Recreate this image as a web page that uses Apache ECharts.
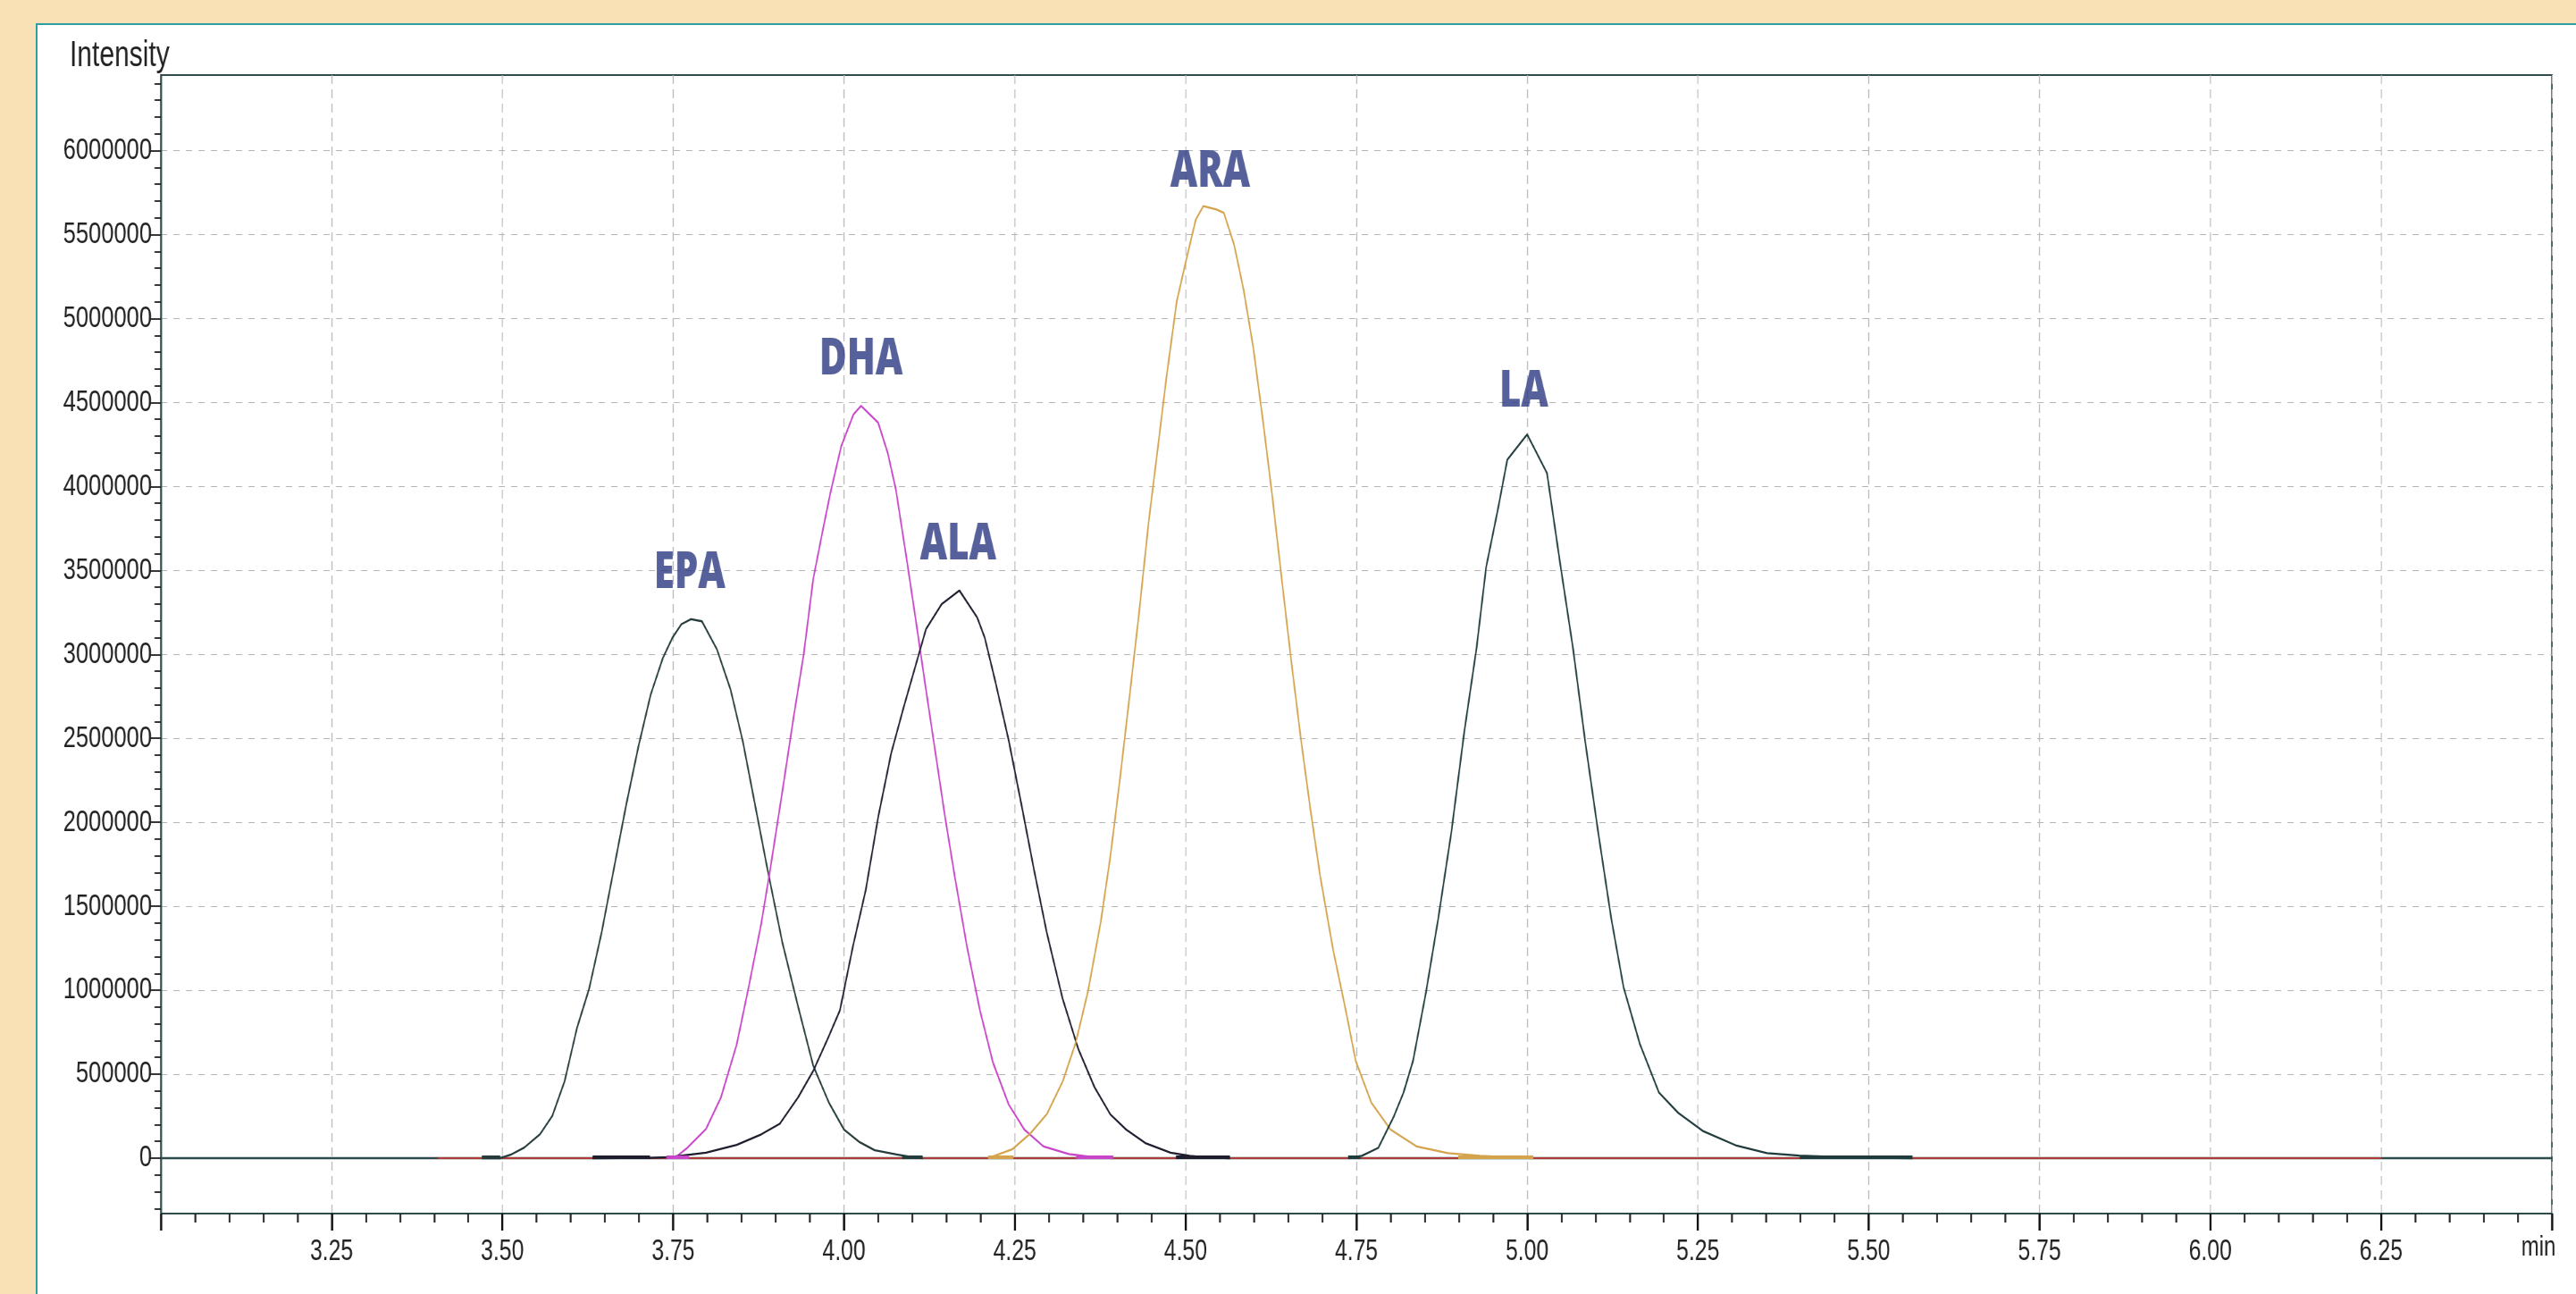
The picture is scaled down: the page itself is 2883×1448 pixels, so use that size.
<!DOCTYPE html>
<html>
<head>
<meta charset="utf-8">
<script src="https://cdn.jsdelivr.net/npm/echarts@6/dist/echarts.min.js"></script>
<style>
html,body{margin:0;padding:0;width:2883px;height:1448px;overflow:hidden;background:#f9e1b5;}
#panel{position:absolute;left:40px;top:26px;right:0;bottom:0;background:#ffffff;border-left:2px solid #2f9ea3;border-top:2px solid #2f9ea3;}
#chart{position:absolute;left:0;top:0;width:3844px;height:1448px;transform:scaleX(0.75);transform-origin:0 0;}
</style>
</head>
<body>
<div id="panel"></div>
<div id="chart"></div>
<script>
// ---------------- data (retention time in min, intensity) ----------------
const yTicks = [0, 500000, 1000000, 1500000, 2000000, 2500000, 3000000, 3500000, 4000000, 4500000, 5000000, 5500000, 6000000];

const epa = [[3.470,0],[3.497,0],[3.512,20000],[3.532,63000],[3.555,142000],[3.573,252000],[3.591,457000],[3.609,773000],[3.627,1010000],[3.645,1340000],[3.663,1720000],[3.681,2100000],[3.699,2450000],[3.717,2760000],[3.735,2980000],[3.749,3100000],[3.762,3180000],[3.776,3210000],[3.792,3197000],[3.814,3030000],[3.834,2790000],[3.852,2480000],[3.870,2100000],[3.888,1720000],[3.910,1280000],[3.933,900000],[3.955,550000],[3.978,330000],[4.000,170000],[4.023,95000],[4.045,47000],[4.077,22000],[4.100,6000],[4.115,0]];

const dha = [[3.740,0],[3.755,10000],[3.771,63000],[3.798,174000],[3.820,363000],[3.843,678000],[3.861,1030000],[3.879,1400000],[3.892,1720000],[3.910,2190000],[3.926,2620000],[3.941,3000000],[3.955,3450000],[3.968,3720000],[3.980,3960000],[3.996,4240000],[4.014,4430000],[4.025,4480000],[4.050,4380000],[4.064,4200000],[4.076,3980000],[4.092,3560000],[4.106,3180000],[4.120,2790000],[4.134,2410000],[4.148,2030000],[4.162,1680000],[4.180,1260000],[4.199,880000],[4.218,570000],[4.241,320000],[4.264,170000],[4.292,70000],[4.329,25000],[4.360,8000],[4.394,0]];

const ala = [[3.632,0],[3.716,2000],[3.744,6000],[3.798,32000],[3.843,79000],[3.879,142000],[3.906,205000],[3.933,363000],[3.955,520000],[3.975,700000],[3.994,880000],[4.013,1260000],[4.032,1600000],[4.050,2030000],[4.069,2410000],[4.087,2680000],[4.106,2950000],[4.120,3150000],[4.143,3300000],[4.169,3380000],[4.195,3220000],[4.206,3100000],[4.222,2830000],[4.241,2490000],[4.260,2100000],[4.278,1720000],[4.297,1340000],[4.320,950000],[4.343,650000],[4.367,420000],[4.390,260000],[4.413,170000],[4.441,90000],[4.478,33000],[4.506,14000],[4.530,5000],[4.565,0]];

const ara = [[4.211,0],[4.246,52000],[4.273,148000],[4.297,263000],[4.320,455000],[4.339,685000],[4.357,990000],[4.376,1410000],[4.390,1800000],[4.404,2260000],[4.418,2750000],[4.432,3250000],[4.446,3790000],[4.460,4250000],[4.472,4650000],[4.487,5100000],[4.501,5350000],[4.515,5590000],[4.526,5670000],[4.545,5650000],[4.556,5630000],[4.571,5440000],[4.585,5170000],[4.599,4830000],[4.613,4400000],[4.627,3940000],[4.641,3440000],[4.655,2950000],[4.669,2490000],[4.683,2070000],[4.697,1680000],[4.716,1240000],[4.735,870000],[4.749,580000],[4.772,330000],[4.800,170000],[4.838,70000],[4.884,30000],[4.931,14000],[4.970,6000],[5.009,0]];

const la = [[4.738,0],[4.758,14000],[4.782,61000],[4.805,250000],[4.819,390000],[4.833,580000],[4.852,990000],[4.870,1430000],[4.889,1940000],[4.908,2540000],[4.926,3040000],[4.940,3520000],[4.957,3860000],[4.971,4160000],[5.000,4310000],[5.029,4080000],[5.048,3550000],[5.067,3040000],[5.085,2480000],[5.104,1940000],[5.123,1430000],[5.141,1020000],[5.165,680000],[5.193,390000],[5.221,270000],[5.258,160000],[5.305,77000],[5.351,30000],[5.398,15000],[5.470,5000],[5.564,0]];

// integration baseline segments [start, end] per peak
const epaMarks = [[3.470,3.497],[4.085,4.115]];
const dhaMarks = [[3.740,3.773],[4.340,4.394]];
const alaMarks = [[3.632,3.716],[4.486,4.565]];
const araMarks = [[4.211,4.248],[4.899,5.009]];
const laMarks  = [[4.738,4.756],[5.399,5.564]];

const zeroLine = [[3.0,0],[6.5,0]];
const baseline = [[3.405,0],[6.25,0]];

// peak annotation: [time, intensity, name]
const peakLabels = [[3.774,3480000,'EPA'],[4.025,4750000,'DHA'],[4.167,3650000,'ALA'],[4.536,5870000,'ARA'],[4.995,4560000,'LA']];

// ---------------- chart ----------------
const S = 0.75;               // horizontal squeeze applied by CSS
const px = v => v / S;        // final horizontal px -> pre-transform px
const FONT = 'Liberation Sans';
const AXIS = '#2f4b4b';
const TXT = '#222222';

function markSegs(marks){
  return marks.map(m => [{coord:[m[0], 8000]}, {coord:[m[1], 8000]}]);
}
function peakSeries(name, data, color, marks){
  return {
    name, type:'line', data, symbol:'none', smooth:false, z:3,
    lineStyle:{color, width:2.3}, itemStyle:{color},
    markLine:{silent:true, symbol:['none','none'], label:{show:false},
      lineStyle:{color, width:4, type:'solid'}, data:markSegs(marks)}
  };
}

const chart = echarts.init(document.getElementById('chart'), null, {renderer:'canvas'});
chart.setOption({
  animation:false,
  backgroundColor:'transparent',
  title:[
    {text:'Intensity', left:px(78), top:43, padding:0,
      textStyle:{fontFamily:FONT, fontSize:40, fontWeight:'normal', color:TXT}},
    {text:'min', left:px(2841), top:1380, padding:0, textAlign:'center',
      textStyle:{fontFamily:FONT, fontSize:32, fontWeight:'normal', color:TXT}}
  ],
  grid:{left:px(180), right:px(27), top:84, bottom:90, show:true,
    borderColor:AXIS, borderWidth:2, backgroundColor:'#ffffff'},
  xAxis:{
    type:'value', min:3, max:6.5, interval:0.25,
    axisLine:{show:true, onZero:false, lineStyle:{color:AXIS, width:2}},
    axisTick:{show:true, length:19, lineStyle:{color:'#111111', width:px(2.4)}},
    minorTick:{show:true, splitNumber:5, length:10, lineStyle:{color:TXT, width:px(2)}},
    axisLabel:{formatter:v => v.toFixed(2), margin:26,
      fontFamily:FONT, fontSize:33, color:TXT, showMinLabel:false, showMaxLabel:false},
    splitLine:{show:true, lineStyle:{color:'#b5b5b5', width:px(1.1), type:[10,6]}},
    minorSplitLine:{show:false}
  },
  yAxis:{
    type:'value', min:-330000, max:6450000, minInterval:500000, maxInterval:500000,
    axisLine:{show:true, onZero:false, lineStyle:{color:AXIS, width:2.6}},
    axisTick:{show:true, length:px(12), customValues:yTicks, lineStyle:{color:TXT, width:1.8}},
    minorTick:{show:true, splitNumber:5, length:px(7), lineStyle:{color:TXT, width:1.8}},
    axisLabel:{customValues:yTicks, formatter:v => String(v), margin:px(10),
      fontFamily:FONT, fontSize:34, color:TXT},
    splitLine:{show:true, lineStyle:{color:'#b5b5b5', width:1.1, type:[px(7),px(7)]}}
  },
  series:[
    {name:'zero', type:'line', data:zeroLine, symbol:'none', z:1,
      lineStyle:{color:AXIS, width:2.5}},
    {name:'baseline', type:'line', data:baseline, symbol:'none', z:2,
      lineStyle:{color:'#b33838', width:2.2}},
    peakSeries('EPA', epa, '#263c3c', epaMarks),
    peakSeries('DHA', dha, '#c845c8', dhaMarks),
    peakSeries('ALA', ala, '#1d1d2e', alaMarks),
    peakSeries('ARA', ara, '#d4a44c', araMarks),
    peakSeries('LA',  la,  '#1f3b3b', laMarks),
    {name:'labels', type:'scatter', data:peakLabels, symbol:'circle', symbolSize:1, z:5,
      itemStyle:{color:'rgba(0,0,0,0)'},
      label:{show:true, position:'inside', formatter:p => p.data[2],
        fontFamily:'Open Sans', fontWeight:800, fontSize:56, color:'#2c3a82'}}
  ]
});
</script>
</body>
</html>
